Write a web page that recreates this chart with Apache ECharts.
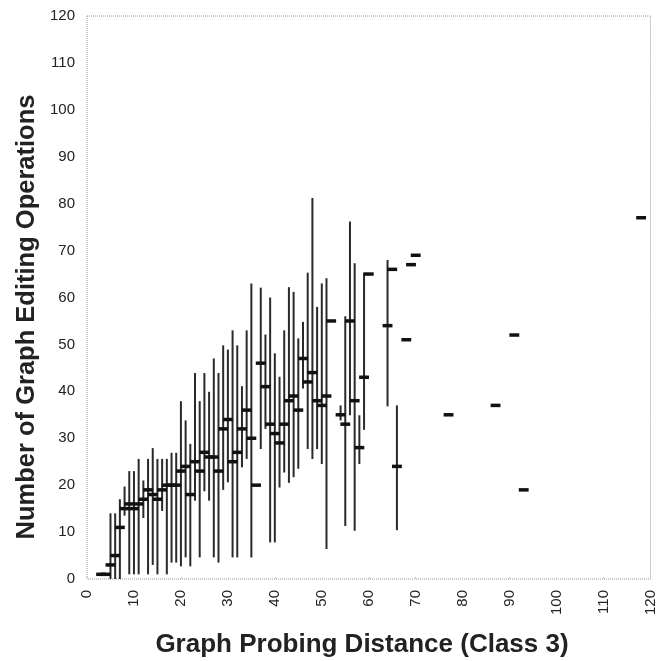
<!DOCTYPE html>
<html>
<head>
<meta charset="utf-8">
<script src="https://cdn.jsdelivr.net/npm/echarts@6/dist/echarts.min.js"></script>
<style>html,body{margin:0;padding:0;background:#fff;}#c{width:658px;height:661px;}</style>
</head>
<body>
<div id="c"></div>
<script>
// Graph probing distance (x) for each mean marker
var meanX = [3,4,5,6,7,8,9,10,11,12,13,14,15,16,17,18,19,20,21,22,23,24,25,26,27,28,29,30,31,32,33,34,35,36,37,38,39,40,41,42,43,44,45,46,47,48,49,50,51,52,54,55,56,57,58,59,60,64,65,66,68,69,70,77,87,91,93,118];
// Mean number of graph editing operations
var meanY = [1,1,3,5,11,15,16,15,16,17,19,18,17,19,20,20,20,23,24,18,25,23,27,26,26,23,32,34,25,27,32,36,30,20,46,41,33,31,29,33,38,39,36,47,42,44,38,37,39,55,35,33,55,38,28,43,65,54,66,24,51,67,69,35,37,52,19,77];
// Range lines: x, min, max
var rangeX   = [5,6,7,8,9,10,11,12,13,14,15,16,17,18,19,20,21,22,23,24,25,26,27,28,29,30,31,32,33,34,35,37,38,39,40,41,42,43,44,45,46,47,48,49,50,51,54,55,56,57,58,59,64,66];
var rangeMin = [0,0,0,13.5,1,1,1,13,1,3,1,14.5,1,3.5,3.5,2.7,4.6,2.7,16.7,4.6,18.7,16.7,4.6,3.5,19,20.6,4.6,4.6,23.8,25.6,4.6,27.7,32,7.8,7.8,19.5,22.7,20.5,21.7,23.5,40.6,27.7,25.6,27.7,24.5,6.4,33.8,11.3,34.9,10.3,24.5,31.8,36.8,10.4];
var rangeMax = [14,14,17,19.7,23,23,25.6,21,25.6,27.9,25.6,25.6,25.6,26.9,26.9,37.9,33.8,28.8,43.9,37.9,43.9,39.9,47,43.9,49.8,48.9,53,49.8,41.1,53,63,62.1,52.1,60,48.1,43.1,53,62.2,61.2,51.3,54.8,65.3,81.2,58,63,64.1,37,56,76.2,67.3,34.9,65.3,68,37];
var xTicks = [0,10,20,30,40,50,60,70,80,90,100,110,120];
var yTicks = [0,10,20,30,40,50,60,70,80,90,100,110,120];
var xTitle = 'Graph Probing Distance (Class 3)';
var yTitle = 'Number of Graph Editing Operations';

var rangeData = rangeX.map(function(x,i){return [x, rangeMin[i], rangeMax[i]];});
var meanData = meanX.map(function(x,i){return [x, meanY[i]];});

var chart = echarts.init(document.getElementById('c'), null, {renderer:'canvas'});
var font = 'Liberation Sans, Arial, Helvetica, sans-serif';
chart.setOption({
  backgroundColor:'#fff',
  animation:false,
  graphic:[
    {type:'text',x:362,y:645,style:{text:xTitle,font:'bold 26px '+font,fill:'#222',textAlign:'center',textVerticalAlign:'middle'}},
    {type:'text',x:27,y:317,rotation:Math.PI/2,style:{text:yTitle,font:'bold 25.5px '+font,fill:'#222',textAlign:'center',textVerticalAlign:'middle'}}
  ],
  grid:{left:87,right:5,top:16,bottom:82,show:true,borderColor:'#9a9a9a',borderWidth:1,borderType:[1,1]},
  xAxis:{
    type:'value',min:xTicks[0],max:xTicks[xTicks.length-1],interval:10,
    axisLine:{show:false},
    axisTick:{show:true,inside:true,length:2,lineStyle:{color:'#ccc'}},
    splitLine:{show:false},
    axisLabel:{rotate:90,fontFamily:font,fontSize:15,color:'#222',margin:11}
  },
  yAxis:{
    type:'value',min:yTicks[0],max:yTicks[yTicks.length-1],interval:10,
    axisLine:{show:false},axisTick:{show:false},splitLine:{show:false},
    axisLabel:{fontFamily:font,fontSize:15,color:'#222',margin:12}
  },
  series:[
    {
      type:'custom',data:rangeData,
      renderItem:function(params,api){
        var top = api.coord([api.value(0), api.value(2)]);
        var bot = api.coord([api.value(0), api.value(1)]);
        return {type:'line',shape:{x1:top[0],y1:top[1],x2:bot[0],y2:bot[1]},
          style:{stroke:'#2a2a2a',lineWidth:2}};
      }
    },
    {
      type:'custom',data:meanData,
      renderItem:function(params,api){
        var l = api.coord([api.value(0)-1.05, api.value(1)]);
        var r = api.coord([api.value(0)+1.05, api.value(1)]);
        return {type:'line',shape:{x1:l[0],y1:l[1],x2:r[0],y2:r[1]},
          style:{stroke:'#111',lineWidth:3.5}};
      }
    }
  ]
});
</script>
</body>
</html>
